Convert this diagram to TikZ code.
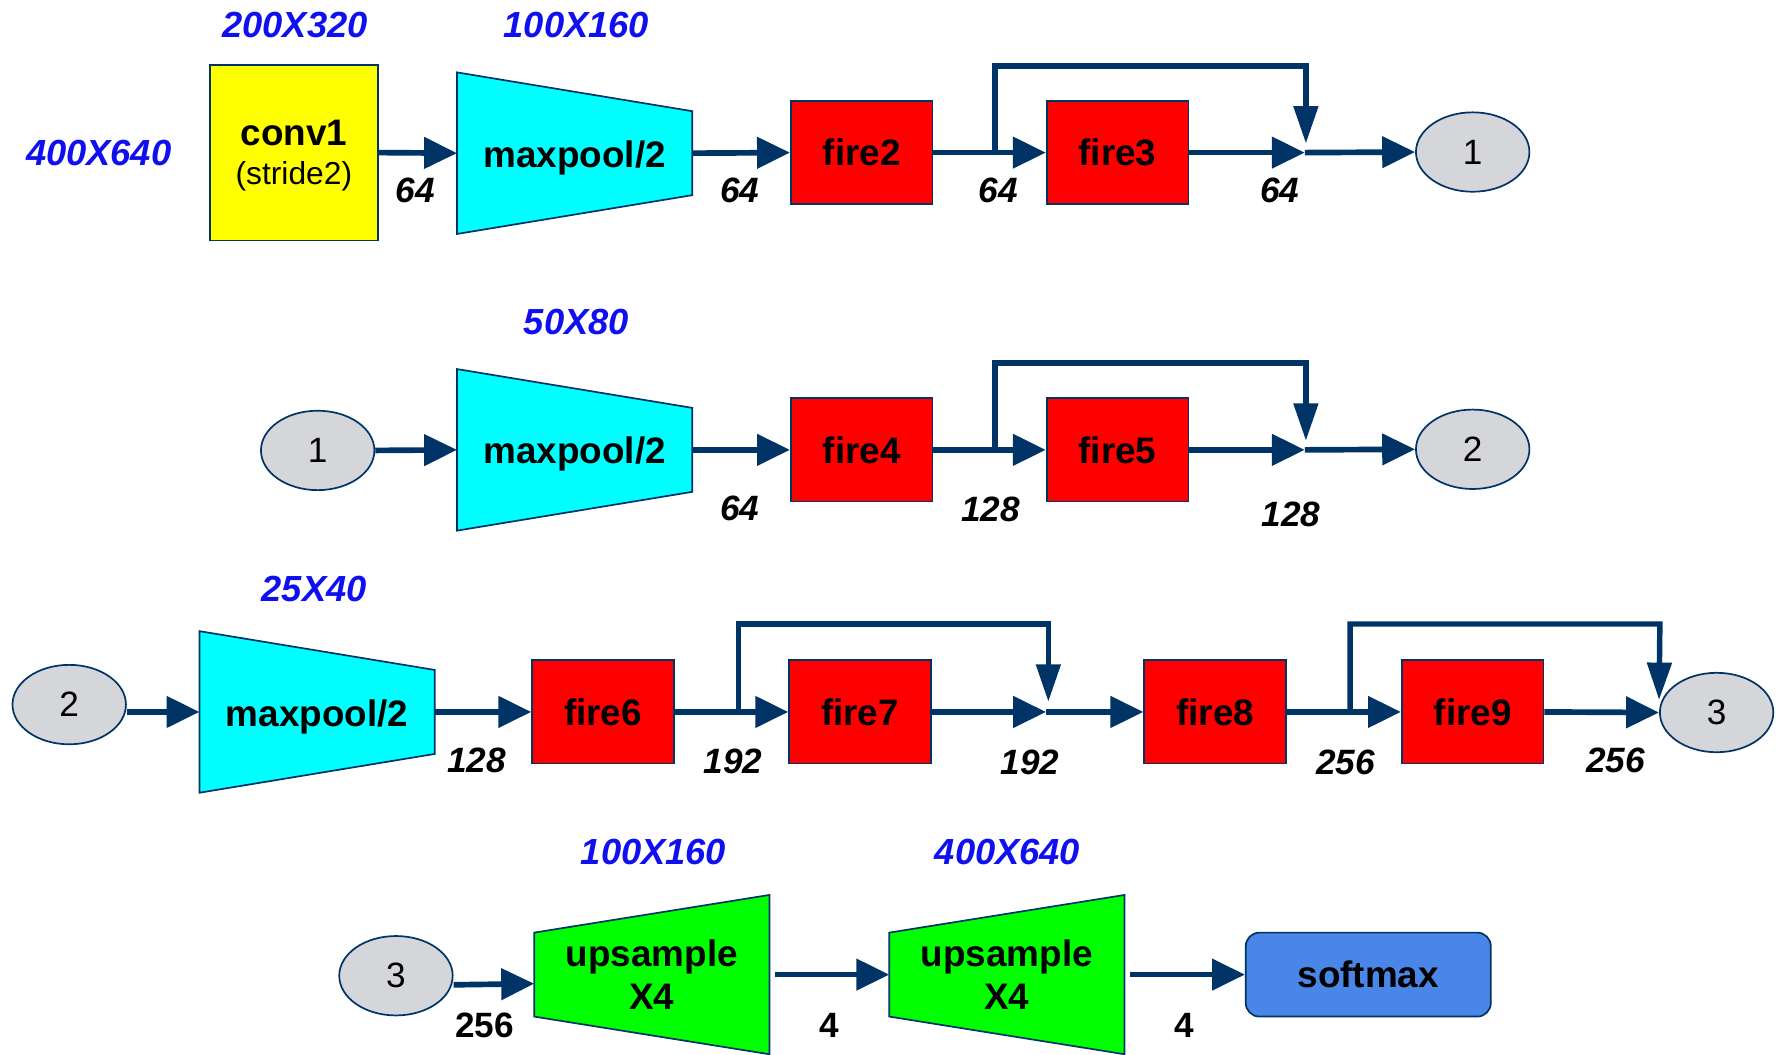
\documentclass[tikz,border=0pt]{standalone}
\usepackage{fontspec}
\setmainfont{Liberation Sans}
\usetikzlibrary{arrows.meta,shapes.geometric,backgrounds,calc}
\definecolor{navy}{RGB}{0,51,102}
\definecolor{dimblue}{RGB}{15,15,240}
\definecolor{ellgray}{RGB}{213,214,218}
\definecolor{smblue}{RGB}{74,134,232}
\definecolor{trapcyan}{RGB}{0,255,255}
\definecolor{trapgreen}{RGB}{0,255,0}
\definecolor{boxyellow}{RGB}{255,255,0}
\definecolor{firered}{RGB}{255,0,0}
\newcommand{\mytrapL}[2]{% narrowing to the right
  \filldraw[draw=navy,line width=1.5pt,line join=miter,fill=#2] (#1.north west) -- ($(#1.east)+(0,-37)$) -- ($(#1.east)+(0,37)$) -- (#1.south west) -- cycle;}
\newcommand{\mytrapR}[2]{% widening to the right
  \filldraw[draw=navy,line width=1.5pt,line join=miter,fill=#2] ($(#1.west)+(0,-37)$) -- (#1.north east) -- (#1.south east) -- ($(#1.west)+(0,37)$) -- cycle;}
\begin{document}
\begin{tikzpicture}[x=1pt,y=-1pt,
  lbl/.style={font=\fontsize{32.5}{38}\selectfont\bfseries},
  box/.style={lbl, draw=navy, line width=1.5pt, minimum width=125pt, minimum height=91pt, inner sep=0pt, align=center},
  fire/.style={box, fill=firered},
  trap/.style={lbl, minimum width=207pt, minimum height=142pt, inner sep=0pt, align=center},
  traptext/.style={lbl, inner sep=0pt, yshift=-4pt},
  ell/.style={ellipse, draw=navy, line width=1.5pt, fill=ellgray, minimum width=100pt, minimum height=70pt, inner sep=0pt, font=\fontsize{31}{36}\selectfont},
  dim/.style={text=dimblue, font=\fontsize{32}{36}\selectfont\bfseries\itshape},
  num/.style={font=\fontsize{31}{36}\selectfont\bfseries\itshape},
  unum/.style={font=\fontsize{31}{36}\selectfont\bfseries},
  arr/.style={draw=navy, line width=5pt, -{Triangle[length=29pt,width=27pt]}},
  skiparr/.style={draw=navy, line width=4.8pt, line join=miter, -{Triangle[length=33pt,width=21pt]}},
]
\useasboundingbox (0,0) rectangle (1568,929);

% ---------- Row 1 ----------
\node[dim] (d0) at (87,135) {400X640};
\node[dim] (d1) at (260,22) {200X320};
\node[dim] (d2) at (508,22) {100X160};
\node[box, fill=boxyellow, minimum width=148pt, minimum height=155pt, text depth=0pt] (conv1) at (259,134.5)
  {\raisebox{-6pt}{conv1}\\[2pt]{\mdseries\fontsize{28}{30}\selectfont (stride2)}};
\node[trap] (mp1) at (506.5,135) {};
\node[traptext] (mp1t) at (mp1) {maxpool/2};
\node[fire] (fire2) at (759.5,134.5) {fire2};
\node[fire] (fire3) at (985,134.5) {fire3};
\coordinate (j1) at (1150,134.5);
\coordinate (s1) at (877,134.5);
\node[ell] (e1) at (1298,134) {1};
\node[num] (n11) at (366,168) {64};
\node[num] (n12) at (652,168) {64};
\node[num] (n13) at (880,168) {64};
\node[num] (n14) at (1128,168) {64};

% ---------- Row 2 ----------
\node[dim] (d3) at (508,284) {50X80};
\node[ell] (e1b) at (280,397) {1};
\node[trap] (mp2) at (506.5,396.5) {};
\node[traptext] (mp2t) at (mp2) {maxpool/2};
\node[fire] (fire4) at (759.5,396.5) {fire4};
\node[fire] (fire5) at (985,396.5) {fire5};
\coordinate (j2) at (1150,396.5);
\coordinate (s2) at (877,396.5);
\node[ell] (e2) at (1298,396) {2};
\node[num] (n21) at (652,448) {64};
\node[num] (n22) at (873,449) {128};
\node[num] (n23) at (1138,453) {128};

% ---------- Row 3 ----------
\node[dim] (d4) at (277,519) {25X40};
\node[ell] (e2b) at (61,621) {2};
\node[trap] (mp3) at (279.5,627.5) {};
\node[traptext] (mp3t) at (mp3) {maxpool/2};
\node[fire] (fire6) at (531.5,627.5) {fire6};
\node[fire] (fire7) at (758,627.5) {fire7};
\coordinate (j3) at (922,627.5);
\coordinate (s3) at (651,627.5);
\node[fire] (fire8) at (1071,627.5) {fire8};
\node[fire] (fire9) at (1298,627.5) {fire9};
\coordinate (s4) at (1190,627.5);
\node[ell] (e3) at (1513,628) {3};
\node[num] (n31) at (420,670) {128};
\node[num] (n32) at (646,671) {192};
\node[num] (n33) at (908,672) {192};
\node[num] (n34) at (1186,672) {256};
\node[num] (n35) at (1424,670) {256};

% ---------- Row 4 ----------
\node[dim] (d5) at (576,751) {100X160};
\node[dim] (d6) at (888,751) {400X640};
\node[ell] (e3b) at (349,860) {3};
\node[trap, minimum height=140pt] (up1) at (574.5,859) {upsample\\X4};
\node[trap, minimum height=140pt] (up2) at (887.5,859) {upsample\\X4};
\node[lbl, draw=navy, line width=1.5pt, fill=smblue, rounded corners=12pt, minimum width=216pt, minimum height=74pt, inner sep=0pt] (sm) at (1206,859) {softmax};
\node[unum] (n41) at (427,904) {256};
\node[unum] (n42) at (731,904) {4};
\node[unum] (n43) at (1044,904) {4};

% ---------- trapezoid bodies ----------
\begin{scope}[on background layer]
\mytrapL{mp1}{trapcyan}
\mytrapL{mp2}{trapcyan}
\mytrapL{mp3}{trapcyan}
\mytrapR{up1}{trapgreen}
\mytrapR{up2}{trapgreen}
\end{scope}

% ---------- connectors ----------
\draw[arr] (conv1.east) -- (mp1.west);
\draw[arr] (mp1.east) -- (fire2.west);
\draw[arr] (fire2.east) -- (fire3.west);
\draw[arr] (fire3.east) -- (j1);
\draw[arr] (j1) -- (e1.west);
\draw[skiparr] (s1) |- (1151,58) -- ($(j1)+(1,-8)$);

\draw[arr] (e1b.east) -- (mp2.west);
\draw[arr] (mp2.east) -- (fire4.west);
\draw[arr] (fire4.east) -- (fire5.west);
\draw[arr] (fire5.east) -- (j2);
\draw[arr] (j2) -- (e2.west);
\draw[skiparr] (s2) |- (1151,320) -- ($(j2)+(1,-8)$);

\draw[arr] (e2b.east |- mp3.west) -- (mp3.west);
\draw[arr] (mp3.east) -- (fire6.west);
\draw[arr] (fire6.east) -- (fire7.west);
\draw[arr] (fire7.east) -- (j3);
\draw[arr] (j3) -- (fire8.west);
\draw[skiparr] (s3) |- (924,550) -- ($(j3)+(2,-9)$);
\draw[arr] (fire8.east) -- (fire9.west);
\draw[arr] (fire9.east) -- (e3.west);
\draw[skiparr] (s4) |- (1463,550) -- ($(e3.west)+(0,-11)$);

\draw[arr] ($(e3b.east)+(0,8)$) -- ($(up1.west)+(0,8)$);
\draw[arr] ($(up1.east)+(5,0)$) -- (up2.west);
\draw[arr] ($(up2.east)+(5,0)$) -- (sm.west);
\end{tikzpicture}
\end{document}
